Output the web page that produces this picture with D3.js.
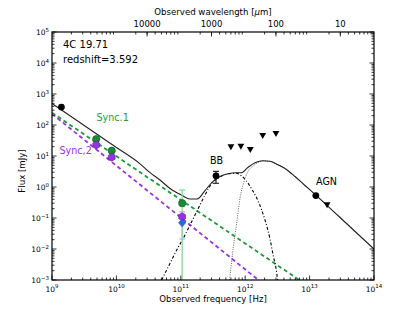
<!DOCTYPE html>
<html>
<head>
<meta charset="utf-8">
<script src="https://cdn.jsdelivr.net/npm/d3@7"></script>
<style>
body { margin:0; background:#fff; }
svg { display:block; }
text { font-family: "DejaVu Sans", sans-serif; }
</style>
</head>
<body>
<div id="app"></div>
<script>
// photometry, frequency in Hz and flux in mJy
const radio_nu = [1.4e9]
const radio_flux = [380]
const sync1_nu = [4.86e9, 8.46e9, 1.05e11]
const sync1_flux = [35, 14.8, 0.30]
const sync2_nu = [4.86e9, 8.46e9, 1.05e11]
const sync2_flux = [22.6, 9.1, 0.11]
const blue_nu = [1.05e11]
const blue_flux = [0.07]
const bb_nu = [3.52e11]
const bb_flux = [2.3]
const agn_nu = [1.25e13]
const agn_flux = [0.53]
const limit_nu = [6.0e11, 8.57e11, 1.2e12, 1.87e12, 3.0e12, 1.87e13]
const limit_flux = [19, 20, 15.6, 44, 51, 0.26]

// error bars [nu, low, high]
const err_green = [[1.05e11, 1e-4, 0.80]]
const err_purple = [[1.05e11, 0.075, 0.158]]
const err_blue = [[1.05e11, 0.021, 0.10]]
const err_bb = [[3.52e11, 1.32, 3.2]]

// model curves [nu, flux]
const sync1_model = [[1e9, 250], [6.9e12, 1e-3]]
const sync2_model = [[1e9, 230], [1.6e12, 1e-3]]
const total_model = [[1e9, 494], [1e10, 18.9], [2.33e10, 5.6], [3.33e10, 2.9], [4.75e10, 1.68],
   [6.8e10, 0.895], [1.04e11, 0.54], [1.39e11, 0.41], [1.79e11, 0.41], [2.38e11, 0.77],
   [3.05e11, 1.40], [4.06e11, 2.18], [5.41e11, 2.67], [7.2e11, 2.87], [8.6e11, 2.87],
   [1.1e12, 4.26], [1.42e12, 6.04], [1.89e12, 7.05], [2.43e12, 6.75], [3.23e12, 5.2],
   [4.15e12, 3.95], [5.93e12, 2.18], [8.48e12, 1.12], [1.26e13, 0.54], [2.97e13, 0.104], [1e14, 0.01]]
const bb_model = [[5.05e10, 1e-3], [6.8e10, 0.00346], [8.64e10, 0.0093], [1.093e11, 0.0221],
   [1.39e11, 0.0594], [1.766e11, 0.16], [2.376e11, 0.552], [3.02e11, 1.30], [4.06e11, 2.10],
   [5.41e11, 2.67], [7.2e11, 2.77], [8.61e11, 2.35], [1.03e12, 1.62], [1.262e12, 0.861],
   [1.509e12, 0.441], [1.804e12, 0.181], [2.03e12, 0.0861], [2.427e12, 0.021],
   [2.731e12, 0.00594], [3.085e12, 0.00168], [3.175e12, 1e-3]]
const agn_model = [[5.71e11, 1e-3], [6.54e11, 0.0116], [7.38e11, 0.069], [8.31e11, 0.441],
   [9.34e11, 1.25], [1.117e12, 3.28], [1.322e12, 4.75], [1.581e12, 6.17], [1.89e12, 6.9],
   [2.43e12, 6.7], [3.23e12, 5.15], [4.15e12, 3.95], [5.93e12, 2.18], [8.48e12, 1.12],
   [1.26e13, 0.54], [2.97e13, 0.104], [1e14, 0.01]]

// top axis
const top_ticks_um = [10000, 1000, 100, 10]
const top_tick_labels = ["10000", "1000", "100", "10"]

const make_plot = (root_node) => {
   let width = 416, height = 312
   let m = {top: 32, right: 42, bottom: 32, left: 52}
   let w = width - m.left - m.right
   let h = height - m.top - m.bottom
   let green = "#1e9a3c", purple = "#9932e6", blue = "#1f6fe0"

   let root = d3.select(root_node).append("svg")
      .attr("width", width).attr("height", height)

   root.append("defs").append("clipPath").attr("id", "clip")
      .append("rect").attr("width", w).attr("height", h)

   let plot = root.append("g").attr("transform", `translate(${m.left},${m.top})`)

   let x = d3.scaleLog().domain([1e9, 1e14]).range([0, w])
   let y = d3.scaleLog().domain([1e-3, 1e5]).range([h, 0])
   let wl = d3.scaleLog().domain([2.998e5, 2.998]).range([0, w])

   let line = d3.line().x(d => x(d[0])).y(d => y(d[1])).curve(d3.curveMonotoneX)
   let curves = plot.append("g").attr("clip-path", "url(#clip)").attr("fill", "none")

   curves.append("path").datum(sync1_model).attr("d", line)
      .attr("stroke", green).attr("stroke-width", 1.8).attr("stroke-dasharray", "4,3")
   curves.append("path").datum(sync2_model).attr("d", line)
      .attr("stroke", purple).attr("stroke-width", 1.8).attr("stroke-dasharray", "4,3")
   curves.append("path").datum(bb_model).attr("d", line)
      .attr("stroke", "#000").attr("stroke-width", 1.1).attr("stroke-dasharray", "3,2,1,2")
   curves.append("path").datum(agn_model).attr("d", line)
      .attr("stroke", "#555").attr("stroke-width", 0.9).attr("stroke-dasharray", "1,1.3")
   curves.append("path").datum(total_model).attr("d", line)
      .attr("stroke", "#222").attr("stroke-width", 1.1)

   // error bars
   const errbar = (data, color, lw) => {
      let g = plot.append("g").attr("clip-path", "url(#clip)").attr("stroke", color).attr("stroke-width", lw)
      data.forEach(d => {
         g.append("line").attr("x1", x(d[0])).attr("x2", x(d[0])).attr("y1", y(d[1])).attr("y2", y(d[2]))
         g.append("line").attr("x1", x(d[0]) - 3).attr("x2", x(d[0]) + 3).attr("y1", y(d[2])).attr("y2", y(d[2]))
         g.append("line").attr("x1", x(d[0]) - 3).attr("x2", x(d[0]) + 3).attr("y1", y(d[1])).attr("y2", y(d[1]))
      })
   }
   errbar(err_purple, "#cf9df2", 1.2)
   errbar(err_blue, "#9fc2f2", 1.2)
   errbar(err_green, "#86dc97", 1.3)
   errbar(err_bb, "#000", 1)

   let pts = plot.append("g")
   pts.selectAll(".radio").data(radio_nu).join("circle")
      .attr("cx", d => x(d)).attr("cy", (d, i) => y(radio_flux[i])).attr("r", 3.4).attr("fill", "#000")
   pts.selectAll(".bb").data(bb_nu).join("circle")
      .attr("cx", d => x(d)).attr("cy", (d, i) => y(bb_flux[i])).attr("r", 3.4).attr("fill", "#000")
   pts.selectAll(".agn").data(agn_nu).join("circle")
      .attr("cx", d => x(d)).attr("cy", (d, i) => y(agn_flux[i])).attr("r", 3.4).attr("fill", "#000")
   pts.selectAll(".s1").data(sync1_nu).join("circle")
      .attr("cx", d => x(d)).attr("cy", (d, i) => y(sync1_flux[i])).attr("r", 3.6)
      .attr("fill", "#1b8a35").attr("stroke", "#0f5f22").attr("stroke-width", 0.7)
   let hexpath = d3.range(6).map(k => [3.9 * Math.sin(k * Math.PI / 3), -3.9 * Math.cos(k * Math.PI / 3)])
   pts.selectAll(".s2").data(sync2_nu).join("path")
      .attr("d", "M" + hexpath.join("L") + "Z")
      .attr("transform", (d, i) => `translate(${x(d)},${y(sync2_flux[i])})`)
      .attr("fill", purple).attr("stroke", "#6d1fb0").attr("stroke-width", 0.7)
   pts.selectAll(".bl").data(blue_nu).join("path")
      .attr("d", "M0,-4L3.6,0L0,4L-3.6,0Z")
      .attr("transform", (d, i) => `translate(${x(d)},${y(blue_flux[i])})`)
      .attr("fill", blue).attr("stroke", "#1550b0").attr("stroke-width", 0.6)
   pts.selectAll(".lim").data(limit_nu).join("path")
      .attr("d", "M-3.4,-3L3.4,-3L0,3Z")
      .attr("transform", (d, i) => `translate(${x(d)},${y(limit_flux[i])})`)
      .attr("fill", "#000")

   // frame and ticks
   let frame = plot.append("g").attr("stroke", "#000")
   frame.append("rect").attr("width", w).attr("height", h).attr("fill", "none").attr("stroke-width", 1.2)
   const is_major = v => Math.abs(Math.log10(v) - Math.round(Math.log10(v))) < 1e-6
   x.ticks().forEach(v => {
      let len = is_major(v) ? 4.5 : 2.5
      frame.append("line").attr("x1", x(v)).attr("x2", x(v)).attr("y1", h).attr("y2", h - len).attr("stroke-width", 0.8)
      if (!is_major(v)) frame.append("line").attr("x1", x(v)).attr("x2", x(v)).attr("y1", 0).attr("y2", 2.5).attr("stroke-width", 0.8)
   })
   top_ticks_um.forEach(v => {
      frame.append("line").attr("x1", wl(v)).attr("x2", wl(v)).attr("y1", 0).attr("y2", 4.5).attr("stroke-width", 0.8)
   })
   y.ticks().forEach(v => {
      let len = is_major(v) ? 4.5 : 2.5
      frame.append("line").attr("x1", 0).attr("x2", len).attr("y1", y(v)).attr("y2", y(v)).attr("stroke-width", 0.8)
      frame.append("line").attr("x1", w).attr("x2", w - len).attr("y1", y(v)).attr("y2", y(v)).attr("stroke-width", 0.8)
   })

   const sup_label = (g, v, tx, ty, anchor) => {
      let e = Math.round(Math.log10(v))
      let t = g.append("text").attr("x", tx).attr("y", ty).attr("text-anchor", anchor)
         .attr("font-size", "7.5px").attr("fill", "#000")
      t.append("tspan").text("10")
      t.append("tspan").attr("dy", -3.5).attr("font-size", "5.5px").text(String(e).replace("-", "\u2212"))
   }
   let labels = plot.append("g")
   x.ticks().filter(is_major).forEach(v => sup_label(labels, v, x(v), h + 11.5, "middle"))
   y.ticks().filter(is_major).forEach(v => sup_label(labels, v, -3, y(v) + 3, "end"))

   top_ticks_um.forEach((v, i) => {
      labels.append("text").attr("x", wl(v)).attr("y", -5.5).attr("text-anchor", "middle")
         .attr("font-size", "8.5px").text(top_tick_labels[i])
   })

   root.append("text").attr("x", m.left + w / 2).attr("y", 302).attr("text-anchor", "middle")
      .attr("font-size", "8.6px").text("Observed frequency [Hz]")
   let tl = root.append("text").attr("x", m.left + w / 2).attr("y", 15).attr("text-anchor", "middle")
      .attr("font-size", "8.6px")
   tl.append("tspan").text("Observed wavelength [")
   tl.append("tspan").attr("font-style", "italic").text("\u03bc")
   tl.append("tspan").text("m]")
   root.append("text").attr("transform", "translate(25,171) rotate(-90)").attr("text-anchor", "middle")
      .attr("font-size", "8.6px").text("Flux [mJy]")

   root.append("text").attr("x", 63).attr("y", 47.5).attr("font-size", "10px").text("4C 19.71")
   root.append("text").attr("x", 63).attr("y", 63).attr("font-size", "10px").text("redshift=3.592")

   const note = (txt, tx, ty, color) => root.append("text").attr("x", tx).attr("y", ty)
      .attr("font-family", "Liberation Sans, Arial, sans-serif").attr("font-size", "9.6px")
      .attr("fill", color).text(txt)
   note("Sync.1", 96.5, 121, green)
   note("Sync,2", 59.5, 153.5, purple)
   note("BB", 210, 164, "#000")
   note("AGN", 316, 185, "#000")
}

make_plot("#app")
</script>
</body>
</html>
